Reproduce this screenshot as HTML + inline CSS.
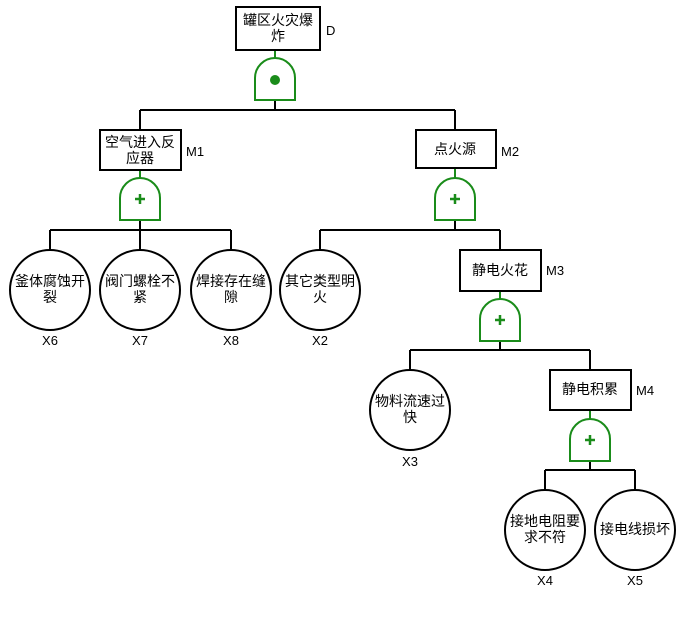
<!DOCTYPE html>
<html><head><meta charset="utf-8"><style>
html,body{margin:0;padding:0;background:#fff;}
svg text{font-family:"Liberation Sans","Noto Sans CJK SC",sans-serif;font-size:14px;fill:#000;}
svg text.l{font-size:13px;}
</style></head><body>
<svg width="685" height="630" viewBox="0 0 685 630" xmlns="http://www.w3.org/2000/svg">
<defs>
<g id="gor"><path d="M-20,42 L-20,20 A20,20 0 0 1 20,20 L20,42 Z" fill="#fff" stroke="#1a8c1a" stroke-width="2"/>
<path d="M-5,21 H5 M0,16 V26" stroke="#1a8c1a" stroke-width="2.5"/></g>
</defs>
<g stroke="#000" stroke-width="2" fill="none">
<line x1="275" y1="100" x2="275" y2="110"/>
<line x1="140" y1="110" x2="455" y2="110"/>
<line x1="140" y1="110" x2="140" y2="130"/>
<line x1="455" y1="110" x2="455" y2="130"/>
<line x1="140" y1="220" x2="140" y2="230"/>
<line x1="50" y1="230" x2="231" y2="230"/>
<line x1="50" y1="230" x2="50" y2="250"/>
<line x1="140" y1="230" x2="140" y2="250"/>
<line x1="231" y1="230" x2="231" y2="250"/>
<line x1="455" y1="220" x2="455" y2="230"/>
<line x1="320" y1="230" x2="500" y2="230"/>
<line x1="320" y1="230" x2="320" y2="250"/>
<line x1="500" y1="230" x2="500" y2="250"/>
<line x1="500" y1="340" x2="500" y2="350"/>
<line x1="410" y1="350" x2="590" y2="350"/>
<line x1="410" y1="350" x2="410" y2="370"/>
<line x1="590" y1="350" x2="590" y2="370"/>
<line x1="590" y1="461" x2="590" y2="470"/>
<line x1="545" y1="470" x2="635" y2="470"/>
<line x1="545" y1="470" x2="545" y2="490"/>
<line x1="635" y1="470" x2="635" y2="490"/>
</g>
<g stroke="#1a8c1a" stroke-width="2">
<line x1="275" y1="50" x2="275" y2="58"/>
<line x1="140" y1="170" x2="140" y2="178"/>
<line x1="455" y1="168" x2="455" y2="178"/>
<line x1="500" y1="291" x2="500" y2="300"/>
<line x1="590" y1="410" x2="590" y2="420"/>
</g>
<g transform="translate(275,58)"><path d="M-20,42 L-20,20 A20,20 0 0 1 20,20 L20,42 Z" fill="#fff" stroke="#1a8c1a" stroke-width="2"/><circle cx="0" cy="22" r="5" fill="#1a8c1a"/></g>
<use href="#gor" transform="translate(140,178)"/>
<use href="#gor" transform="translate(455,178)"/>
<use href="#gor" transform="translate(500,299)"/>
<use href="#gor" transform="translate(590,419)"/>
<g fill="#fff" stroke="#000" stroke-width="2">
<rect x="236" y="7" width="84" height="43"/>
<rect x="100" y="130" width="81" height="40"/>
<rect x="416" y="130" width="80" height="38"/>
<rect x="460" y="250" width="81" height="41"/>
<rect x="550" y="370" width="81" height="40"/>
<circle cx="50" cy="290" r="40"/>
<circle cx="140" cy="290" r="40"/>
<circle cx="231" cy="290" r="40"/>
<circle cx="320" cy="290" r="40"/>
<circle cx="410" cy="410" r="40"/>
<circle cx="545" cy="530" r="40"/>
<circle cx="635" cy="530" r="40"/>
</g>
<g text-anchor="middle">
<text x="278" y="25">罐区火灾爆</text><text x="278" y="41">炸</text>
<text x="140" y="147">空气进入反</text><text x="140" y="163">应器</text>
<text x="455" y="154">点火源</text>
<text x="500" y="275">静电火花</text>
<text x="590" y="394">静电积累</text>
<text x="50" y="286">釜体腐蚀开</text><text x="50" y="302">裂</text>
<text x="140" y="286">阀门螺栓不</text><text x="140" y="302">紧</text>
<text x="231" y="286">焊接存在缝</text><text x="231" y="302">隙</text>
<text x="320" y="286">其它类型明</text><text x="320" y="302">火</text>
<text x="410" y="406">物料流速过</text><text x="410" y="422">快</text>
<text x="545" y="526">接地电阻要</text><text x="545" y="542">求不符</text>
<text x="635" y="534">接电线损坏</text>
<text class="l" x="50" y="345">X6</text><text class="l" x="140" y="345">X7</text><text class="l" x="231" y="345">X8</text>
<text class="l" x="320" y="345">X2</text><text class="l" x="410" y="466">X3</text>
<text class="l" x="545" y="585">X4</text><text class="l" x="635" y="585">X5</text>
</g>
<text class="l" x="326" y="35">D</text>
<text class="l" x="186" y="156">M1</text>
<text class="l" x="501" y="156">M2</text>
<text class="l" x="546" y="275">M3</text>
<text class="l" x="636" y="395">M4</text>
</svg>
</body></html>
